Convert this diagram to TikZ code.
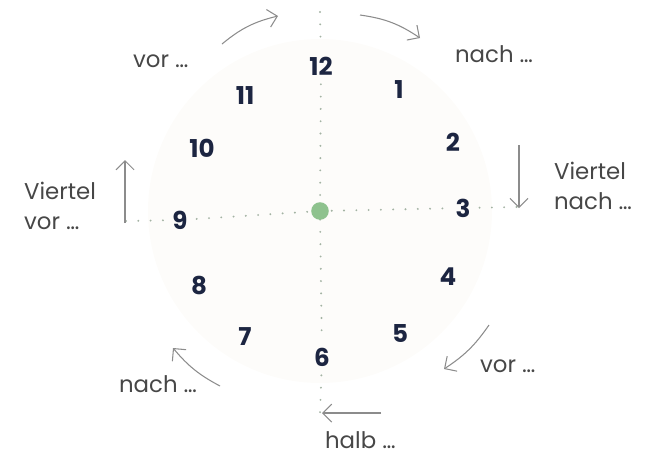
\documentclass[tikz,border=0pt]{standalone}
\usepackage{fontspec}
\setmainfont{Poppins}
\usepackage{xcolor}
\usetikzlibrary{arrows.meta}
\definecolor{numcol}{HTML}{1C2541}
\definecolor{lblcol}{HTML}{474747}
\definecolor{arcol}{HTML}{8C8C8C}
\definecolor{dotcol}{HTML}{A3B3A3}
\definecolor{hubcol}{HTML}{8EC28E}
\definecolor{disccol}{HTML}{FDFCFA}
\tikzset{
  num/.style={font=\fontsize{14}{16}\selectfont\bfseries,text=numcol,inner sep=5pt},
  lbl/.style={font=\fontsize{13}{17}\selectfont,text=lblcol,inner sep=1pt,align=left},
  ar/.style={-{Straight Barb[length=1.8mm,width=3.6mm]},draw=arcol,line width=0.6pt},
  dots/.style={draw=dotcol,line width=1.2pt,line cap=round,dash pattern=on 0pt off 7pt},
  hub/.style={circle,fill=hubcol,minimum size=10pt,inner sep=0pt}
}
\begin{document}
\begin{tikzpicture}[x=0.02cm,y=-0.02cm]
  \useasboundingbox (0,0) rectangle (650,458);
  \coordinate (c) at (320,211);
  \fill[disccol] (c) circle (172);
  % Zifferblatt
  \foreach \n/\x/\y in {12/321/66,1/399/90,2/453/142,3/463/208,4/448/277,5/400/333,
                        6/322/357,7/245/337,8/199/285,9/180/220,10/202/148,11/245/96}
    \node[num] (n\n) at (\x,\y) {\n};
  % Achsen
  \coordinate (topv) at (320,12);
  \coordinate (botv) at (320,414);
  \coordinate (leftv) at (126,221);
  \coordinate (rightv) at (517,207);
  \draw[dots] (topv) -- (n12);
  \draw[dots] (n12) -- (c) -- (n6);
  \draw[dots] (n6) -- (botv);
  \draw[dots] (leftv) -- (n9) -- (c) -- (n3) -- (rightv);
  \node[hub] (hub) at (c) {};
  % Pfeile
  \coordinate (a1) at (222,44);  \coordinate (b1) at (278,16);
  \coordinate (a2) at (360,15);  \coordinate (b2) at (420,38);
  \coordinate (a3) at (519,145); \coordinate (b3) at (519,208);
  \coordinate (a4) at (489,325); \coordinate (b4) at (444,369);
  \coordinate (a5) at (381,413); \coordinate (b5) at (322,413);
  \coordinate (a6) at (220,386); \coordinate (b6) at (173,348);
  \coordinate (a7) at (125,223); \coordinate (b7) at (125,160);
  \draw[ar] (a1) to[bend left=13] (b1);
  \draw[ar] (a2) to[bend left=13] (b2);
  \draw[ar] (a3) -- (b3);
  \draw[ar] (a4) to[bend left=11] (b4);
  \draw[ar] (a5) -- (b5);
  \draw[ar] (a6) to[bend left=11] (b6);
  \draw[ar] (a7) -- (b7);
  % Beschriftung
  \node[lbl,anchor=west] (vor1) at (131,61) {vor~…};
  \node[lbl,anchor=west] (nach1) at (453,54) {nach~…};
  \node[lbl,anchor=west] (vq) at (552,186) {Viertel\\nach~…};
  \node[lbl,anchor=west] (vv) at (22,206) {Viertel\\vor~…};
  \node[lbl,anchor=west] (vor2) at (478,366) {vor~…};
  \node[lbl,anchor=west] (nach2) at (117,384) {nach~…};
  \node[lbl,anchor=west] (halb) at (323,440) {halb~…};
\end{tikzpicture}
\end{document}
